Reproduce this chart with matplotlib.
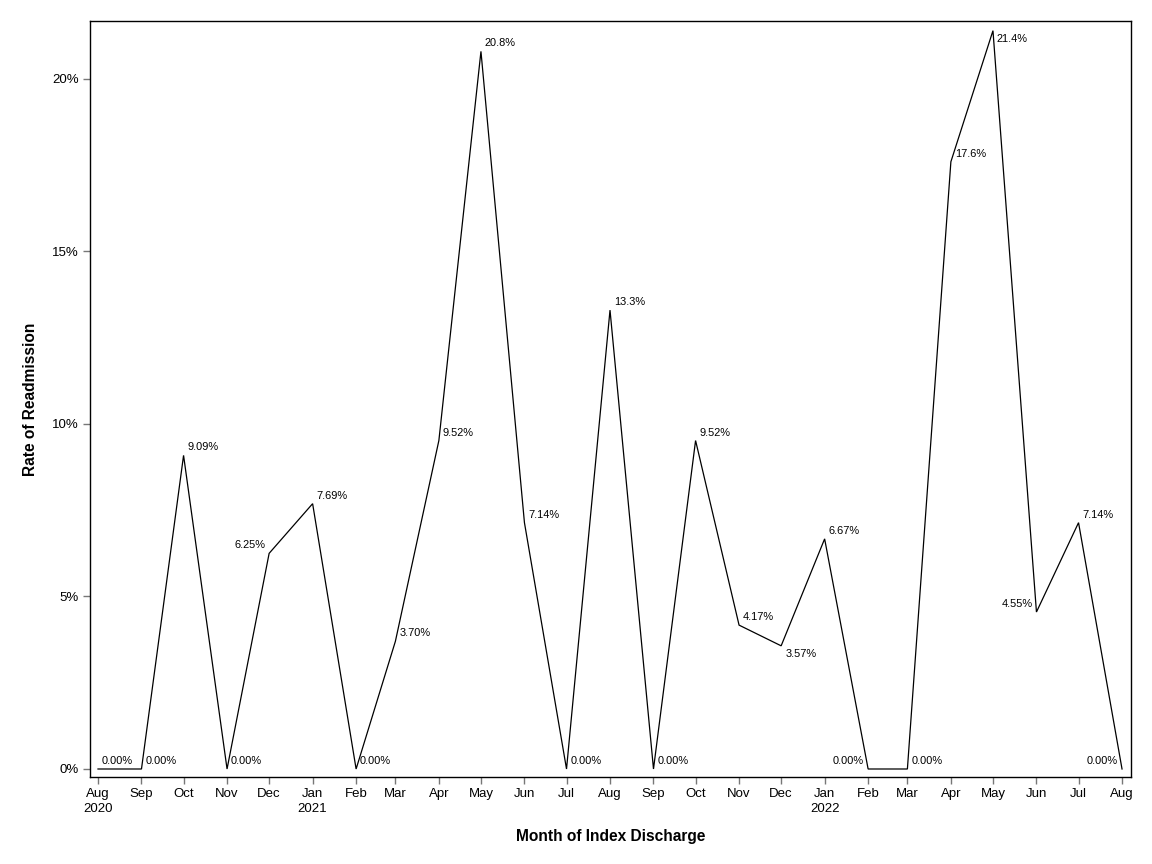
import matplotlib
matplotlib.use("Agg")
import matplotlib.pyplot as plt
import matplotlib.dates as mdates
from matplotlib.ticker import FuncFormatter, FixedLocator
from datetime import date

plt.rcParams['font.family'] = ['Liberation Sans', 'DejaVu Sans']

months = [date(2020, 8, 1), date(2020, 9, 1), date(2020, 10, 1), date(2020, 11, 1),
          date(2020, 12, 1), date(2021, 1, 1), date(2021, 2, 1), date(2021, 3, 1),
          date(2021, 4, 1), date(2021, 5, 1), date(2021, 6, 1), date(2021, 7, 1),
          date(2021, 8, 1), date(2021, 9, 1), date(2021, 10, 1), date(2021, 11, 1),
          date(2021, 12, 1), date(2022, 1, 1), date(2022, 2, 1), date(2022, 3, 1),
          date(2022, 4, 1), date(2022, 5, 1), date(2022, 6, 1), date(2022, 7, 1),
          date(2022, 8, 1)]
rates = [0.00, 0.00, 9.09, 0.00, 6.25, 7.69, 0.00, 3.70, 9.52, 20.8, 7.14, 0.00,
         13.3, 0.00, 9.52, 4.17, 3.57, 6.67, 0.00, 0.00, 17.6, 21.4, 4.55, 7.14, 0.00]
label_pos = ['ur', 'ur', 'ur', 'ur', 'ul', 'ur', 'ur', 'ur', 'ur', 'ur', 'ur', 'ur',
             'ur', 'ur', 'ur', 'ur', 'lr', 'ur', 'ul', 'ur', 'ur', 'lr', 'ul', 'ur', 'ul']
month_abbr = ['Jan', 'Feb', 'Mar', 'Apr', 'May', 'Jun', 'Jul', 'Aug', 'Sep', 'Oct', 'Nov', 'Dec']
y_ticks = [0, 5, 10, 15, 20]

fig = plt.figure(figsize=(11.52, 8.64), dpi=100)
ax = fig.add_axes([90 / 1152, 1 - 777 / 864, (1131 - 90) / 1152, (777 - 21) / 864])

x = mdates.date2num(months)
ax.plot(x, rates, color='black', linewidth=0.9, solid_joinstyle='miter')

px = 0.72  # points per pixel at 100 dpi
for xi, v, pos in zip(x, rates, label_pos):
    txt = f"{v:.1f}%" if v >= 10 else f"{v:.2f}%"
    dx = 4 if pos[1] == 'r' else -4
    dy = 8 if pos[0] == 'u' else -8
    ax.annotate(txt, (xi, v), xytext=(dx * px, dy * px), textcoords='offset points',
                ha='left' if pos[1] == 'r' else 'right', va='center',
                fontsize=7.9, color='black')

ax.set_xlim(mdates.date2num(months[0]) - 5.7, mdates.date2num(months[-1]) + 6.4)
ax.set_ylim(-0.232, 21.68)

def xfmt(val, _):
    d = mdates.num2date(val)
    s = month_abbr[d.month - 1]
    if d.month == 1 or val == x[0]:
        s += f"\n{d.year}"
    return s

ax.xaxis.set_major_locator(FixedLocator(x))
ax.xaxis.set_major_formatter(FuncFormatter(xfmt))
ax.yaxis.set_major_locator(FixedLocator(y_ticks))
ax.yaxis.set_major_formatter(FuncFormatter(lambda v, _: f"{v:.0f}%"))

ax.tick_params(axis='both', direction='out', length=5, width=1, color='#777777',
               labelsize=9.5, labelcolor='black')
ax.tick_params(axis='x', pad=3)
ax.tick_params(axis='y', pad=3)
for lab in ax.get_xticklabels():
    lab.set_linespacing(1.35)
for sp in ax.spines.values():
    sp.set_linewidth(1)
    sp.set_color('black')

ax.set_xlabel('Month of Index Discharge', fontsize=11.2, fontweight='bold', labelpad=10)
ax.set_ylabel('Rate of Readmission', fontsize=11.2, fontweight='bold', labelpad=10)

fig.savefig('out.png', dpi=100)
